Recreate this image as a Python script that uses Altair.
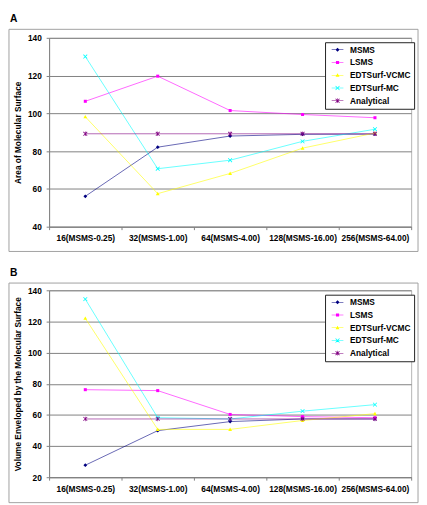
import altair as alt
import pandas as pd

categories = ["16(MSMS-0.25)", "32(MSMS-1.00)", "64(MSMS-4.00)", "128(MSMS-16.00)", "256(MSMS-64.00)"]
series = ["MSMS", "LSMS", "EDTSurf-VCMC", "EDTSurf-MC", "Analytical"]

# Panel A: Area of Molecular Surface
area_msms = [56.1, 82.1, 88.0, 88.9, 89.0]
area_lsms = [106.4, 119.7, 101.5, 99.4, 97.7]
area_vcmc = [98.2, 57.5, 68.2, 81.6, 89.6]
area_mc = [130.1, 70.7, 75.2, 85.2, 91.6]
area_analytical = [89.2, 89.2, 89.2, 89.2, 89.2]

# Panel B: Volume Enveloped by the Molecular Surface
vol_msms = [27.7, 49.9, 55.7, 57.4, 57.4]
vol_lsms = [76.2, 75.6, 60.3, 58.9, 58.2]
vol_vcmc = [122.0, 50.7, 50.7, 56.4, 60.8]
vol_mc = [134.3, 58.2, 57.4, 62.4, 66.6]
vol_analytical = [57.4, 57.4, 57.4, 57.4, 57.4]

area_ticks = [40, 60, 80, 100, 120, 140]
vol_ticks = [20, 40, 60, 80, 100, 120, 140]

colors = ["#000080", "#ff00ff", "#ffff00", "#00ffff", "#800080"]

diamond = "M0,-1L1,0L0,1L-1,0Z"
square = "M-0.8,-0.8H0.8V0.8H-0.8Z"
triangle = "M0,-1L1,0.8H-1Z"
xmark = "M-1.14,-0.86L-0.86,-1.14L1.14,0.86L0.86,1.14Z M-1.14,0.86L0.86,-1.14L1.14,-0.86L-0.86,1.14Z"
star = xmark + " M-0.15,-1.2H0.15V1.2H-0.15Z"
marker_paths = [diamond, square, triangle, xmark, star]
seg = "M-3,-0.13H3V0.13H-3Z "
legend_paths = [seg + p for p in marker_paths]

FONT = "Liberation Sans"
GRID = "#808080"
FRAME = "#a0a0a0"
W = 370


def long_table(lists):
    rows = []
    for s, vals in zip(series, lists):
        for i, (c, v) in enumerate(zip(categories, vals)):
            rows.append({"cat": c, "idx": i, "series": s, "value": v})
    return pd.DataFrame(rows)


def panel(df, ydom, yticks, ytitle, letter, H, frame_top, frame_bot, letter_top):
    xenc = alt.X(
        "cat:N", sort=categories,
        scale=alt.Scale(type="band", paddingInner=0, paddingOuter=0),
        axis=alt.Axis(title=None, labelAngle=0, tickBand="extent", tickSize=3,
                      tickColor=GRID, domainColor=GRID, labelFont=FONT,
                      labelFontSize=8.5, labelFontWeight="bold", labelColor="black",
                      labelPadding=4.5, grid=False),
    )
    yenc = alt.Y(
        "value:Q",
        scale=alt.Scale(domain=ydom, nice=False, zero=False),
        axis=alt.Axis(values=yticks, title=ytitle, grid=True, gridColor=GRID,
                      gridWidth=1, tickSize=3, tickColor=GRID, domainColor=GRID,
                      labelFont=FONT, labelFontSize=8.5, labelFontWeight="bold",
                      labelColor="black", labelPadding=5, titleFont=FONT,
                      titleFontSize=8.5, titleFontWeight="bold", titleColor="black",
                      titlePadding=5),
    )
    cscale = alt.Scale(domain=series, range=colors)
    leg = alt.Legend(title=None, orient="none", legendX=282, legendY=4.5,
                     fillColor="white", strokeColor="#202020", padding=3.5,
                     rowPadding=4, symbolSize=16, symbolOffset=5, labelOffset=8.5,
                     labelFont=FONT, labelFontSize=8.5, labelFontWeight="bold",
                     labelColor="black", symbolStrokeWidth=0)
    base = alt.Chart(df)
    lines = base.mark_line(strokeWidth=1, opacity=0.6).encode(
        x=xenc, y=yenc,
        color=alt.Color("series:N", scale=cscale, legend=None),
        order=alt.Order("idx:Q"),
    )
    pts = base.mark_point(filled=True, size=15, opacity=1).encode(
        x=xenc, y=yenc,
        color=alt.Color("series:N", scale=cscale, legend=None),
        shape=alt.Shape("series:N", scale=alt.Scale(domain=series, range=marker_paths), legend=None),
    )
    legend_layer = base.transform_filter("datum.value < -1000").mark_point(
        filled=True, size=16, opacity=1).encode(
        x=xenc, y=yenc,
        color=alt.Color("series:N", scale=cscale, legend=leg),
        shape=alt.Shape("series:N", scale=alt.Scale(domain=series, range=legend_paths), legend=leg),
    )
    dummy = pd.DataFrame({"k": [0]})
    frame = alt.Chart(dummy).mark_rect(fill="transparent", stroke=FRAME, strokeWidth=1, clip=False).encode(
        x=alt.value(-41), x2=alt.value(W + 7), y=alt.value(frame_top), y2=alt.value(H + frame_bot))
    label = alt.Chart(dummy).mark_text(text=letter, align="left", baseline="top", font=FONT,
                                       fontSize=10.5, fontWeight="bold", color="black").encode(
        x=alt.value(-40), y=alt.value(letter_top))
    return alt.layer(frame, lines, pts, legend_layer, label).resolve_scale(
        color="independent", shape="independent").properties(width=W, height=H)


dfa = long_table([area_msms, area_lsms, area_vcmc, area_mc, area_analytical])
dfb = long_table([vol_msms, vol_lsms, vol_vcmc, vol_mc, vol_analytical])

pa = panel(dfa, [40, 140], area_ticks, "Area of Molecular Surface", "A", 193, -8.7, 25.3, -23.7)
pb = panel(dfb, [20, 140], vol_ticks, "Volume Enveloped by the Molecular Surface", "B", 191, -7.4, 26, -23)

chart = alt.vconcat(pa, pb, spacing=14).resolve_scale(
    color="independent", shape="independent").properties(
    padding={"left": 0, "top": 0, "right": 0, "bottom": 0}
).configure(font=FONT).configure_view(stroke="#b4b4b4", strokeWidth=1)

chart.save("out.html", embed_options={"renderer": "svg", "actions": False})
